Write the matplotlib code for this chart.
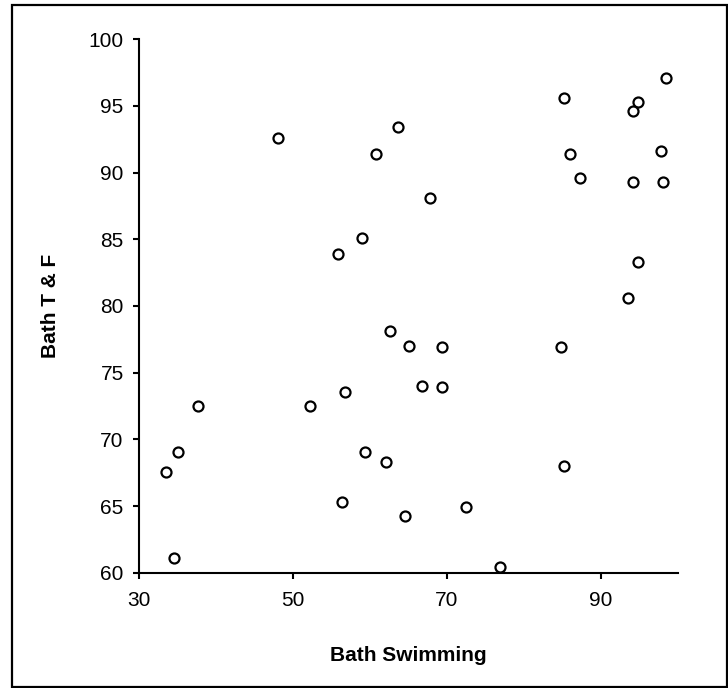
import numpy as np
import matplotlib
matplotlib.use('Agg')
import matplotlib.pyplot as plt
from matplotlib.patches import Rectangle

# Datos
swimming = [48.0, 63.7, 60.8, 59.0, 55.9,
            67.8, 85.2, 98.5, 94.85, 94.1, 86.0, 97.75, 87.3, 94.1, 98.0, 94.85, 93.55,
            62.6, 65.1, 56.7, 52.2, 37.7, 35.1, 33.5, 59.3, 62.1, 56.35, 64.6, 34.5,
            69.4, 66.8, 69.4, 84.75, 85.2, 72.5, 76.9]
tf = [92.6, 93.4, 91.4, 85.1, 83.9,
      88.1, 95.6, 97.1, 95.3, 94.6, 91.4, 91.6, 89.6, 89.3, 89.3, 83.3, 80.6,
      78.1, 77.0, 73.55, 72.5, 72.5, 69.05, 67.55, 69.05, 68.3, 65.3, 64.25, 61.1,
      76.9, 74.0, 73.9, 76.9, 68.0, 64.9, 60.4]

xticks = [30, 50, 70, 90]
yticks = [60, 65, 70, 75, 80, 85, 90, 95, 100]

plt.rcParams['font.family'] = ['Liberation Sans', 'DejaVu Sans']

fig = plt.figure(figsize=(7.28, 6.88), dpi=100)
ax = fig.add_axes([0.1909, 0.1676, 0.7404, 0.7753])

ax.scatter(swimming, tf, s=52, facecolors='white', edgecolors='black',
           linewidths=1.6, zorder=3, clip_on=False)

ax.set_xlim(30, 100)
ax.set_ylim(60, 100)
ax.set_xticks(xticks)
ax.set_yticks(yticks)

for side in ['top', 'right']:
    ax.spines[side].set_visible(False)
for side in ['left', 'bottom']:
    ax.spines[side].set_linewidth(1.5)

ax.tick_params(axis='both', direction='out', length=4, width=1.5, labelsize=15)
ax.tick_params(axis='x', pad=9)
ax.tick_params(axis='y', pad=7)

ax.set_xlabel('Bath Swimming', fontsize=15, fontweight='bold')
ax.set_ylabel('Bath T & F', fontsize=15, fontweight='bold')
ax.xaxis.set_label_coords(0.5, -0.137)
ax.yaxis.set_label_coords(-0.147, 0.5)

# marco exterior
fig.patches.append(Rectangle((0.0158, 0.0019), 0.9828, 0.9908, transform=fig.transFigure,
                             fill=False, edgecolor='black', linewidth=1.6))

plt.savefig('out.png', dpi=100)
